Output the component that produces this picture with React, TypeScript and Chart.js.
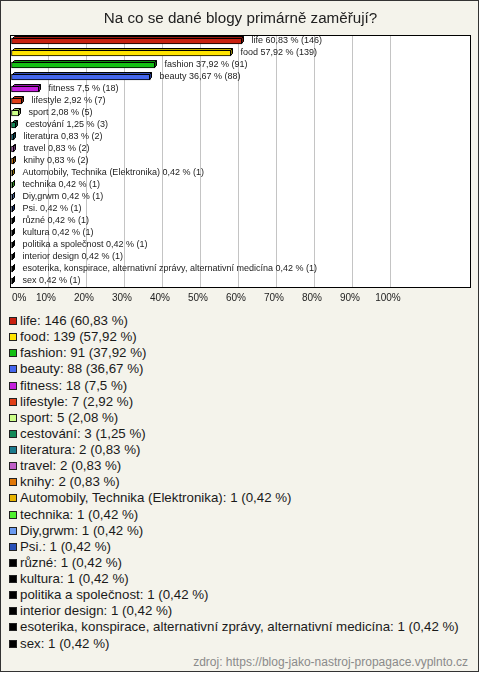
import React, { useEffect, useRef } from "react";
import { Chart, registerables } from "chart.js";

Chart.register(...registerables);

const TITLE = "Na co se dané blogy primárně zaměřují?";
const SOURCE = "zdroj: https://blog-jako-nastroj-propagace.vyplnto.cz";

const categories = [
  "life",
  "food",
  "fashion",
  "beauty",
  "fitness",
  "lifestyle",
  "sport",
  "cestování",
  "literatura",
  "travel",
  "knihy",
  "Automobily, Technika (Elektronika)",
  "technika",
  "Diy,grwm",
  "Psi.",
  "různé",
  "kultura",
  "politika a společnost",
  "interior design",
  "esoterika, konspirace, alternativní zprávy, alternativní medicína",
  "sex",
];

const counts = [146, 139, 91, 88, 18, 7, 5, 3, 2, 2, 2, 1, 1, 1, 1, 1, 1, 1, 1, 1, 1];

const percents = [
  60.83, 57.92, 37.92, 36.67, 7.5, 2.92, 2.08, 1.25, 0.83, 0.83, 0.83, 0.42, 0.42, 0.42,
  0.42, 0.42, 0.42, 0.42, 0.42, 0.42, 0.42,
];

const colors = [
  "#c82010",
  "#ffe400",
  "#14c014",
  "#4466ee",
  "#c420dc",
  "#e04018",
  "#ccff88",
  "#128a58",
  "#1a7a8c",
  "#c060c8",
  "#e07808",
  "#e8b400",
  "#50f030",
  "#6a9af0",
  "#2850b8",
  "#000000",
  "#000000",
  "#000000",
  "#000000",
  "#000000",
  "#000000",
];

const tickValues = [0, 10, 20, 30, 40, 50, 60, 70, 80, 90, 100];

const FONT = '"Liberation Sans", Arial, Helvetica, sans-serif';
const BG = "#f4f3eb";

const fmt = (v: number) => String(v).replace(".", ",");

function shade(hex: string, f: number): string {
  const n = parseInt(hex.slice(1), 16);
  const r = Math.round(((n >> 16) & 255) * f);
  const g = Math.round(((n >> 8) & 255) * f);
  const b = Math.round((n & 255) * f);
  return `rgb(${r},${g},${b})`;
}

const bar3d = {
  id: "bar3d",
  beforeDraw(chart: any) {
    const { ctx, chartArea: a } = chart;
    ctx.save();
    ctx.fillStyle = "#ffffff";
    ctx.fillRect(a.left - 1, a.top, a.right - a.left + 1, a.bottom - a.top);
    ctx.restore();
  },
  afterDatasetsDraw(chart: any) {
    const { ctx } = chart;
    const meta = chart.getDatasetMeta(0);
    const d = 2;
    ctx.save();
    meta.data.forEach((el: any, i: number) => {
      const p = el.getProps(["x", "y", "base", "height"], true);
      const top = p.y - p.height / 2 + 0.5;
      const bottom = p.y + p.height / 2 - 0.5;
      const x0 = Math.round(p.base) + 0.5;
      const x1 = Math.round(p.x) - 0.5;
      const c = colors[i];
      ctx.lineWidth = 1;
      ctx.strokeStyle = "#000";
      // top face
      ctx.beginPath();
      ctx.moveTo(x0, top);
      ctx.lineTo(x0 + d, top - d);
      ctx.lineTo(x1 + d, top - d);
      ctx.lineTo(x1, top);
      ctx.closePath();
      ctx.fillStyle = shade(c, 0.75);
      ctx.fill();
      ctx.stroke();
      // side face
      ctx.beginPath();
      ctx.moveTo(x1, top);
      ctx.lineTo(x1 + d, top - d);
      ctx.lineTo(x1 + d, bottom - d);
      ctx.lineTo(x1, bottom);
      ctx.closePath();
      ctx.fillStyle = shade(c, 0.55);
      ctx.fill();
      ctx.stroke();
      // label
      ctx.fillStyle = "#222";
      ctx.font = `9px ${FONT}`;
      ctx.textBaseline = "middle";
      ctx.textAlign = "left";
      ctx.fillText(
        `${categories[i]} ${fmt(percents[i])} % (${counts[i]})`,
        x1 + d + 8,
        p.y
      );
    });
    ctx.restore();
  },
  afterDraw(chart: any) {
    const { ctx, chartArea: a } = chart;
    ctx.save();
    ctx.strokeStyle = "#000";
    ctx.lineWidth = 1;
    ctx.strokeRect(a.left - 0.5, a.top + 0.5, a.right - a.left + 1, a.bottom - a.top);
    // x tick labels
    const xs = chart.scales.x;
    ctx.fillStyle = "#222";
    ctx.font = `10px ${FONT}`;
    ctx.textBaseline = "middle";
    tickValues.forEach((v) => {
      const px = xs.getPixelForValue(v);
      const label = `${v}%`;
      if (v === 0) {
        ctx.textAlign = "left";
        ctx.fillText(label, a.left + 1, a.bottom + 11);
      } else {
        ctx.textAlign = "center";
        ctx.fillText(label, px - 3, a.bottom + 11);
      }
    });
    ctx.restore();
  },
};

function ChartCanvas() {
  const ref = useRef<HTMLCanvasElement | null>(null);
  useEffect(() => {
    if (!ref.current) return;
    const chart = new Chart(ref.current, {
      type: "bar",
      data: {
        labels: categories,
        datasets: [
          {
            data: percents,
            backgroundColor: colors,
            borderColor: "#000",
            borderWidth: 1,
            borderSkipped: false,
            barThickness: 6,
          },
        ],
      },
      options: {
        indexAxis: "y",
        animation: false,
        responsive: false,
        devicePixelRatio: 1,
        layout: { padding: { left: 11, right: 10, top: 0, bottom: 0 } },
        plugins: {
          legend: { display: false },
          tooltip: { enabled: false },
          title: {
            display: true,
            text: TITLE,
            color: "#222",
            font: { family: FONT, size: 15.2, weight: "normal" },
            padding: { top: 10, bottom: 6.76 },
          },
        },
        scales: {
          y: {
            type: "category",
            display: false,
          },
          x: {
            type: "linear",
            min: 0,
            max: 120.8,
            afterBuildTicks: (axis: any) => {
              axis.ticks = tickValues.map((v) => ({ value: v }));
            },
            afterFit: (axis: any) => {
              axis.height = 20;
            },
            border: { display: false },
            grid: {
              drawTicks: false,
              color: (c: any) => (c.tick && c.tick.value === 0 ? "rgba(0,0,0,0)" : "#c4c4c4"),
              lineWidth: 1,
            },
            ticks: {
              display: false,
            },
          },
        },
      },
      plugins: [bar3d],
    });
    return () => chart.destroy();
  }, []);
  return (
    <canvas
      ref={ref}
      width={480}
      height={307}
      style={{ position: "absolute", left: 0, top: 0, width: 480, height: 307 }}
    />
  );
}

export default function App() {
  return (
    <div
      style={{
        position: "fixed",
        left: 0,
        top: 0,
        width: 480,
        height: 673,
        background: "#ffffff",
        fontFamily: FONT,
      }}
    >
      <div
        style={{
          position: "absolute",
          left: 0,
          top: 0,
          width: 479,
          height: 672,
          boxSizing: "border-box",
          border: "1px solid #333",
          background: BG,
        }}
      />
      <ChartCanvas />
      {categories.map((c, i) => (
        <div
          key={c}
          style={{
            position: "absolute",
            left: 9,
            top: 313 + i * 16.13,
            height: 16,
            lineHeight: "16px",
            fontSize: 13.3,
            color: "#1a1a1a",
            whiteSpace: "nowrap",
            display: "flex",
            alignItems: "center",
          }}
        >
          <span
            style={{
              display: "inline-block",
              width: 8,
              height: 8,
              boxSizing: "border-box",
              border: "1px solid #222",
              background: colors[i],
              marginRight: 3,
            }}
          />
          <span>{`${c}: ${counts[i]} (${fmt(percents[i])} %)`}</span>
        </div>
      ))}
      <div
        style={{
          position: "absolute",
          right: 12,
          top: 654,
          fontSize: 12,
          lineHeight: "16px",
          color: "#8a8a8a",
          whiteSpace: "nowrap",
        }}
      >
        {SOURCE}
      </div>
    </div>
  );
}
